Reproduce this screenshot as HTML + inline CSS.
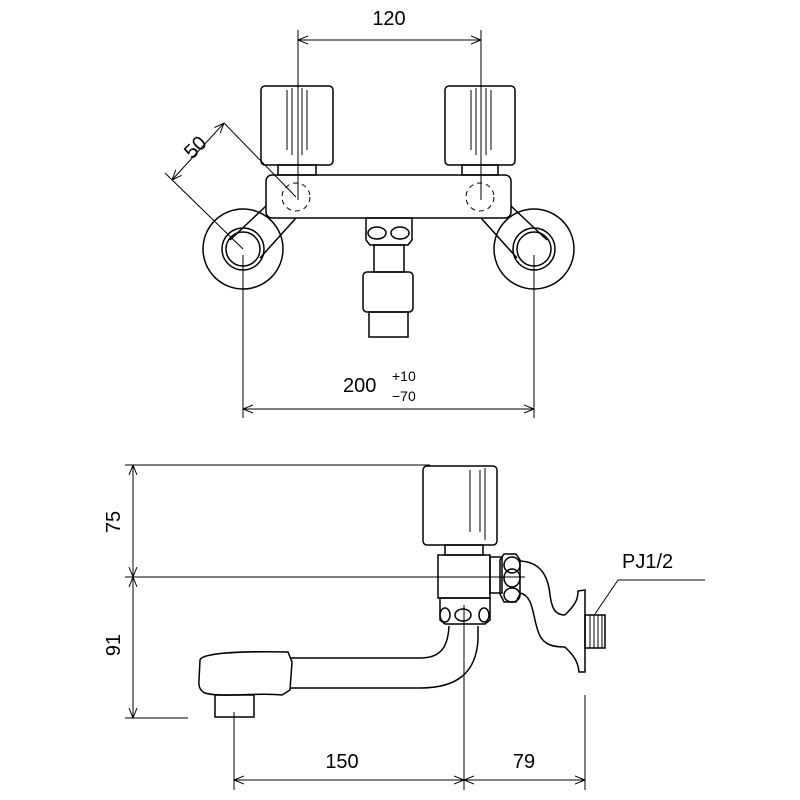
<!DOCTYPE html>
<html><head><meta charset="utf-8"><style>html,body{margin:0;background:#fff}svg{display:block}</style></head><body>
<svg width="800" height="800" viewBox="0 0 800 800" xmlns="http://www.w3.org/2000/svg">
<defs><marker id="a" viewBox="0 0 10 10" refX="10" refY="5" markerWidth="10" markerHeight="10" orient="auto-start-reverse" markerUnits="userSpaceOnUse"><path d="M0,1 L10,5 L0,9" fill="none" stroke="#000" stroke-width="1"/></marker></defs>
<g fill="none" stroke="#000" stroke-width="1.5">
<!-- top view dims -->
<g stroke-width="1">
<line x1="298" y1="30" x2="298" y2="200"/><line x1="481" y1="30" x2="481" y2="200"/>
<line x1="298" y1="40" x2="481" y2="40" marker-start="url(#a)" marker-end="url(#a)"/>
<line x1="243" y1="255" x2="243" y2="418"/><line x1="534" y1="255" x2="534" y2="418"/>
<line x1="243" y1="409" x2="534" y2="409" marker-start="url(#a)" marker-end="url(#a)"/>
<line x1="172" y1="180" x2="224" y2="123" marker-start="url(#a)" marker-end="url(#a)"/>
<line x1="224" y1="123" x2="296" y2="197"/><line x1="165" y1="173" x2="243" y2="249"/>
</g>
<!-- knobs -->
<rect x="261" y="86" width="72" height="79" rx="4"/><rect x="445" y="86" width="70" height="79" rx="4"/>
<g stroke-width="1"><line x1="287" y1="90" x2="287" y2="150"/><line x1="307" y1="90" x2="307" y2="150"/><line x1="292" y1="88" x2="292" y2="155"/><line x1="302" y1="88" x2="302" y2="155"/>
<line x1="471" y1="90" x2="471" y2="150"/><line x1="491" y1="90" x2="491" y2="150"/><line x1="476" y1="88" x2="476" y2="155"/><line x1="486" y1="88" x2="486" y2="155"/></g>
<rect x="278" y="165" width="38" height="10"/><rect x="462" y="165" width="36" height="10"/>
<rect x="266" y="175" width="245" height="43" rx="6"/>
<circle cx="296" cy="197" r="14" stroke-dasharray="5 4" stroke-width="1"/><circle cx="480" cy="197" r="14" stroke-dasharray="5 4" stroke-width="1"/>
<!-- walls -->
<circle cx="243" cy="249" r="40"/><circle cx="243" cy="249" r="21"/><circle cx="243" cy="249" r="17"/>
<circle cx="534" cy="249" r="40"/><circle cx="534" cy="249" r="21"/><circle cx="534" cy="249" r="17"/>
<path d="M266,206 L230,240 M296,218 L260,258 M511,206 L547,240 M481,218 L517,258"/>
<!-- center -->
<path d="M366,218 h46 v22 l-4,5 h-38 l-4,-5 z"/><ellipse cx="377" cy="233" rx="9" ry="6"/><ellipse cx="400" cy="233" rx="9" ry="6"/>
<rect x="374" y="245" width="30" height="27"/><rect x="363" y="272" width="50" height="40" rx="4"/><rect x="369" y="312" width="39" height="25"/>
<!-- side view dims -->
<g stroke-width="1">
<line x1="125" y1="465" x2="430" y2="465"/><line x1="125" y1="577" x2="525" y2="577"/><line x1="125" y1="718" x2="188" y2="718"/>
<line x1="133" y1="465" x2="133" y2="577" marker-start="url(#a)" marker-end="url(#a)"/>
<line x1="133" y1="577" x2="133" y2="718" marker-start="url(#a)" marker-end="url(#a)"/>
<line x1="234" y1="712" x2="234" y2="790"/><line x1="464" y1="605" x2="464" y2="790"/><line x1="585" y1="695" x2="585" y2="790"/>
<line x1="234" y1="780" x2="464" y2="780" marker-start="url(#a)" marker-end="url(#a)"/>
<line x1="464" y1="780" x2="585" y2="780" marker-start="url(#a)" marker-end="url(#a)"/>
<line x1="595" y1="614" x2="618" y2="580" marker-end="none"/><line x1="618" y1="580" x2="705" y2="580"/>
</g>
<!-- side view body -->
<rect x="423" y="466" width="74" height="79" rx="4"/>
<g stroke-width="1"><line x1="470" y1="470" x2="470" y2="532"/><line x1="480" y1="470" x2="480" y2="532"/><line x1="485" y1="468" x2="485" y2="540"/></g>
<rect x="445" y="545" width="38" height="10"/>
<rect x="438" y="555" width="52" height="43"/><rect x="490" y="557" width="12" height="36"/>
<path d="M504,554 h12 l4,6 v34 l-4,8 h-12 l-4,-8 v-34 z"/><ellipse cx="512" cy="565" rx="8" ry="8"/><ellipse cx="512" cy="578" rx="8" ry="9"/><ellipse cx="512" cy="595" rx="8" ry="7"/>
<path d="M520,561 C540,562 548,575 550,595 C552,610 556,615 565,615"/>
<path d="M520,593 C535,596 532,620 540,636 C545,645 553,647 565,647"/>
<path d="M565,615 C575,605 578,600 578,591 L585,590 L585,672 L579,672 C578,660 572,654 565,647"/>
<rect x="585" y="615" width="20" height="33"/>
<g stroke-width="1"><line x1="590" y1="615" x2="590" y2="648"/><line x1="594" y1="615" x2="594" y2="648"/><line x1="598" y1="615" x2="598" y2="648"/><line x1="602" y1="615" x2="602" y2="648"/></g>
<path d="M440,598 h50 v22 l-5,4 h-40 l-5,-4 z"/><ellipse cx="445" cy="615" rx="5" ry="7"/><ellipse cx="463" cy="615" rx="8" ry="6"/><ellipse cx="484" cy="615" rx="5" ry="7"/>
<path d="M449,626 C448,648 440,658 420,658 L290,658"/>
<path d="M478,626 L478,640 C476,672 458,688 420,688 L290,688"/>
<path d="M200,660 C202,653 240,651 288,652 L292,662 L290,690 L282,695 C260,692 220,698 205,693 Q198,690 199,680 Z"/>
<rect x="215" y="695" width="39" height="22"/>
</g>
<g font-family="Liberation Sans, sans-serif" font-size="20" fill="#000">
<text x="389" y="25" text-anchor="middle">120</text>
<text x="343" y="392">200</text><text x="392" y="381" font-size="14">+10</text><text x="392" y="401" font-size="14">−70</text>
<text x="0" y="0" transform="translate(200,152) rotate(-45)" text-anchor="middle">50</text>
<text x="0" y="0" transform="translate(120,522) rotate(-90)" text-anchor="middle">75</text>
<text x="0" y="0" transform="translate(120,645) rotate(-90)" text-anchor="middle">91</text>
<text x="342" y="768" text-anchor="middle">150</text><text x="524" y="768" text-anchor="middle">79</text>
<text x="622" y="568">PJ1/2</text>
</g>
</svg>
</body></html>
